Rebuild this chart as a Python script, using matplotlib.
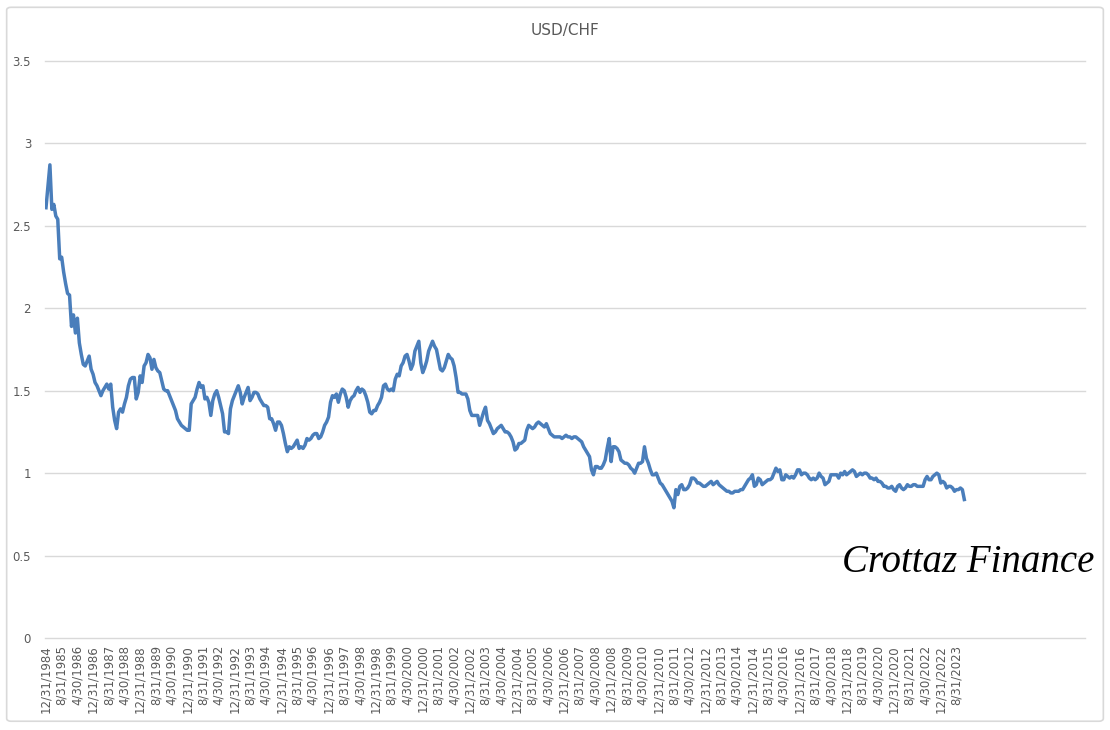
import matplotlib
matplotlib.use("Agg")
import matplotlib.pyplot as plt
import numpy as np
import pandas as pd
from matplotlib.patches import FancyBboxPatch

# month-end USD/CHF, Dec 1984 .. Dec 2023
usdchf = [
    2.61,
    2.74, 2.87, 2.60, 2.63, 2.56, 2.54, 2.30, 2.31, 2.22, 2.15, 2.09, 2.08,
    1.89, 1.96, 1.85, 1.94, 1.79, 1.72, 1.66, 1.65, 1.68, 1.71, 1.63, 1.60,
    1.55, 1.53, 1.50, 1.47, 1.50, 1.52, 1.54, 1.51, 1.54, 1.40, 1.32, 1.27,
    1.37, 1.39, 1.37, 1.42, 1.46, 1.53, 1.57, 1.58, 1.58, 1.45, 1.49, 1.59,
    1.55, 1.65, 1.67, 1.72, 1.70, 1.63, 1.69, 1.64, 1.62, 1.61, 1.56, 1.51,
    1.50, 1.50, 1.47, 1.44, 1.41, 1.38, 1.33, 1.31, 1.29, 1.28, 1.27, 1.26,
    1.26, 1.42, 1.44, 1.46, 1.51, 1.55, 1.52, 1.53, 1.45, 1.46, 1.43, 1.35,
    1.44, 1.48, 1.50, 1.46, 1.41, 1.36, 1.25, 1.25, 1.24, 1.39, 1.44, 1.47,
    1.50, 1.53, 1.49, 1.42, 1.46, 1.49, 1.52, 1.44, 1.46, 1.49, 1.49, 1.48,
    1.45, 1.43, 1.41, 1.41, 1.40, 1.33, 1.33, 1.30, 1.26, 1.31, 1.31, 1.29,
    1.24, 1.18, 1.13, 1.16, 1.15, 1.16, 1.18, 1.20, 1.15, 1.16, 1.15, 1.17,
    1.21, 1.20, 1.21, 1.23, 1.24, 1.24, 1.21, 1.22, 1.25, 1.29, 1.31, 1.34,
    1.43, 1.47, 1.46, 1.48, 1.43, 1.48, 1.51, 1.50, 1.46, 1.40, 1.44, 1.46,
    1.47, 1.50, 1.52, 1.49, 1.51, 1.50, 1.47, 1.43, 1.37, 1.36, 1.38, 1.38,
    1.41, 1.43, 1.46, 1.53, 1.54, 1.51, 1.50, 1.51, 1.50, 1.57, 1.60, 1.59,
    1.65, 1.67, 1.71, 1.72, 1.68, 1.63, 1.66, 1.74, 1.77, 1.80, 1.67, 1.61,
    1.64, 1.68, 1.74, 1.77, 1.80, 1.77, 1.75, 1.69, 1.63, 1.62, 1.64, 1.68,
    1.72, 1.70, 1.69, 1.65, 1.58, 1.49, 1.49, 1.48, 1.48, 1.48, 1.45, 1.38,
    1.35, 1.35, 1.35, 1.35, 1.29, 1.33, 1.37, 1.40, 1.32, 1.30, 1.27, 1.24,
    1.25, 1.27, 1.28, 1.29, 1.27, 1.25, 1.25, 1.24, 1.22, 1.19, 1.14, 1.15,
    1.18, 1.18, 1.19, 1.20, 1.26, 1.29, 1.28, 1.27, 1.28, 1.30, 1.31, 1.30,
    1.29, 1.28, 1.30, 1.27, 1.24, 1.23, 1.22, 1.22, 1.22, 1.22, 1.21, 1.22,
    1.23, 1.22, 1.22, 1.21, 1.22, 1.22, 1.21, 1.20, 1.19, 1.16, 1.14, 1.12,
    1.10, 1.02, 0.99, 1.04, 1.04, 1.03, 1.03, 1.05, 1.08, 1.15, 1.21, 1.07,
    1.16, 1.16, 1.15, 1.13, 1.08, 1.07, 1.06, 1.06, 1.05, 1.03, 1.02, 1.00,
    1.03, 1.06, 1.06, 1.07, 1.16, 1.09, 1.06, 1.02, 0.99, 0.99, 1.00, 0.97,
    0.94, 0.93, 0.91, 0.89, 0.87, 0.85, 0.83, 0.79, 0.90, 0.87, 0.92, 0.93,
    0.90, 0.90, 0.91, 0.93, 0.97, 0.97, 0.96, 0.94, 0.94, 0.93, 0.92, 0.92,
    0.93, 0.94, 0.95, 0.93, 0.94, 0.95, 0.93, 0.92, 0.91, 0.90, 0.89, 0.89,
    0.88, 0.88, 0.89, 0.89, 0.89, 0.90, 0.90, 0.92, 0.94, 0.96, 0.97, 0.99,
    0.92, 0.93, 0.97, 0.96, 0.93, 0.94, 0.95, 0.96, 0.96, 0.97, 1.00, 1.03,
    1.01, 1.02, 0.96, 0.96, 0.99, 0.98, 0.97, 0.98, 0.97, 0.99, 1.02, 1.02,
    0.99, 1.00, 1.00, 0.99, 0.97, 0.96, 0.97, 0.96, 0.97, 1.00, 0.98, 0.97,
    0.93, 0.94, 0.95, 0.99, 0.99, 0.99, 0.99, 0.97, 1.00, 0.99, 1.01, 0.99,
    1.00, 1.01, 1.02, 1.01, 0.98, 0.99, 1.00, 0.99, 1.00, 1.00, 0.99, 0.97,
    0.97, 0.96, 0.97, 0.95, 0.95, 0.94, 0.92, 0.92, 0.91, 0.91, 0.92, 0.90,
    0.89, 0.92, 0.93, 0.91, 0.90, 0.91, 0.93, 0.92, 0.92, 0.93, 0.93, 0.92,
    0.92, 0.92, 0.92, 0.96, 0.98, 0.96, 0.96, 0.98, 0.99, 1.00, 0.99, 0.94,
    0.95, 0.94, 0.91, 0.92, 0.92, 0.91, 0.89, 0.90, 0.90, 0.91, 0.90, 0.84,
]

dates = pd.date_range("1984-12-31", periods=len(usdchf), freq="ME")
labels = [f"{d.month}/{d.day}/{d.year}" for d in dates]
label_step = 8
y_ticks = [0, 0.5, 1, 1.5, 2, 2.5, 3, 3.5]

fig = plt.figure(figsize=(11.1, 7.3), dpi=100)
fig.patch.set_facecolor("white")

# light chart frame
frame = FancyBboxPatch((0.006, 0.012), 0.988, 0.978, boxstyle="round,pad=0,rounding_size=0.004",
                       transform=fig.transFigure, facecolor="none", edgecolor="#d9d9d9", lw=1.2)
fig.patches.append(frame)

ax = fig.add_axes([45 / 1110, 1 - 638 / 730, 1040 / 1110, 577 / 730])
x = np.arange(len(usdchf))
ax.plot(x, usdchf, color="#4a7ebb", lw=2.5, solid_joinstyle="round")

ax.set_ylim(0, 3.5)
ax.set_xlim(-0.5, 529.5)
ax.set_yticks(y_ticks)
ax.set_yticklabels([f"{v:g}" for v in y_ticks])
ax.set_xticks(x[::label_step])
ax.set_xticklabels(labels[::label_step], rotation=90)
ax.tick_params(axis="both", length=0, colors="#595959", labelsize=8.5)
ax.tick_params(axis="y", pad=10)
ax.tick_params(axis="x", pad=5)
ax.grid(axis="y", color="#d9d9d9", lw=1)
for gl in ax.yaxis.get_gridlines():
    gl.set_clip_on(False)
ax.set_axisbelow(True)
for s in ax.spines.values():
    s.set_visible(False)

fig.text(565 / 1110, 1 - 30 / 730, "USD/CHF", ha="center", va="center", fontsize=11, color="#595959")
fig.text(968 / 1110, 1 - 562 / 730, "Crottaz Finance", ha="center", va="center", fontsize=28,
         family="Liberation Serif", style="italic", color="black")

fig.savefig("out.png", dpi=100)
